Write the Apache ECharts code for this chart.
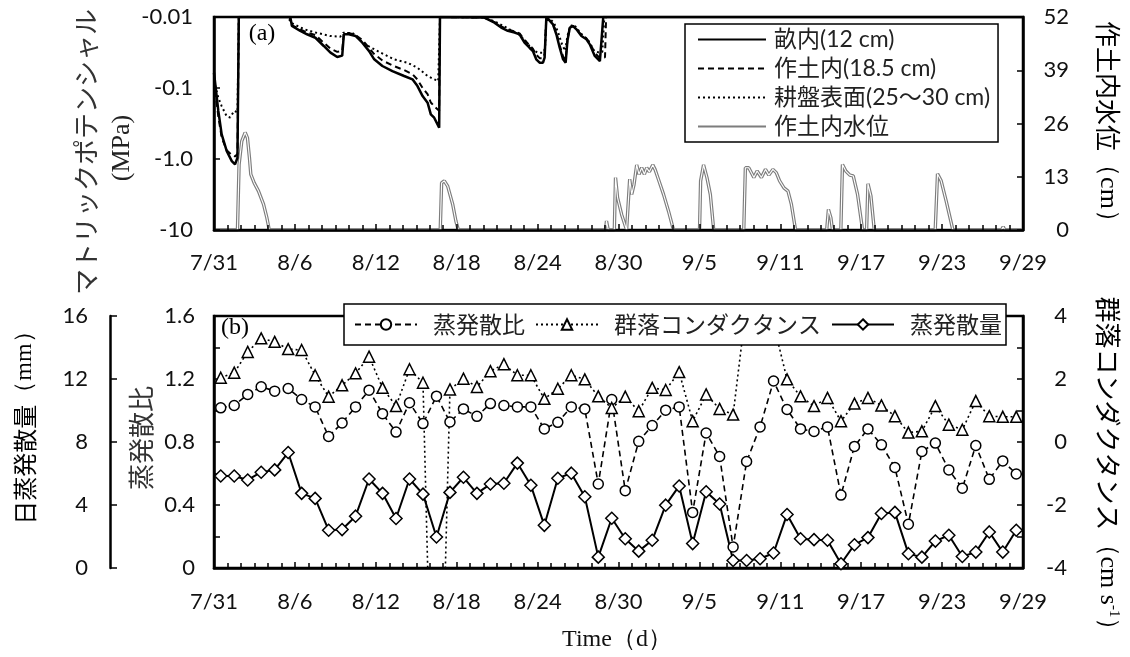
<!DOCTYPE html>
<html><head><meta charset="utf-8">
<script src="https://cdn.jsdelivr.net/npm/echarts@6/dist/echarts.min.js"></script>
<style>html,body{margin:0;padding:0;background:#fff}#c{width:1130px;height:657px}</style>
</head><body><div id="c"></div>
<script>
// ---------- tick labels ----------
const xTickLabels = ['7/31','8/6','8/12','8/18','8/24','8/30','9/5','9/11','9/17','9/23','9/29'];
const potentialTickLabels = ['-0.01','-0.1','-1.0','-10'];

// ---------- panel (a): matric potential [day, MPa] ----------
const ridge12 = [[0,-0.061],[0.32,-0.21],[0.57,-0.45],[0.94,-0.77],[1.32,-1.07],[1.56,-1.19],[1.74,-0.96],[1.84,-0.01],
 [5.66,-0.01],[5.78,-0.0134],[6.40,-0.0157],[6.90,-0.0175],[7.52,-0.0196],[8.14,-0.0256],[8.64,-0.0318],[9.14,-0.0366],[9.51,-0.035],[9.63,-0.0175],[10.0,-0.0175],[10.5,-0.0185],[11.0,-0.023],[11.49,-0.030],[11.86,-0.039],[12.49,-0.049],[13.23,-0.0577],[14.1,-0.0678],[14.72,-0.0755],[15.09,-0.094],[15.47,-0.13],[15.84,-0.161],[16.08,-0.235],[16.33,-0.262],[16.70,-0.362],[16.76,-0.01],
 [20.05,-0.0102],[20.8,-0.012],[21.3,-0.0141],[21.79,-0.0157],[22.29,-0.0166],[22.66,-0.0175],[23.03,-0.023],[23.4,-0.0271],[23.65,-0.0301],[23.9,-0.0394],[24.15,-0.044],[24.4,-0.044],[24.52,-0.0374],[24.65,-0.01],[24.77,-0.0103],[25.14,-0.0127],[25.39,-0.0175],[25.64,-0.0271],[25.89,-0.0394],[26.08,-0.044],[26.21,-0.0218],[26.39,-0.0141],[26.63,-0.0134],[26.88,-0.0149],[27.25,-0.0185],[27.62,-0.0206],[27.87,-0.0243],[28.24,-0.0354],[28.62,-0.0417],[28.74,-0.0394],[28.87,-0.01],[60,-0.01]];
const plow185 = [[0,-0.08],[0.32,-0.25],[0.57,-0.5],[0.94,-0.75],[1.32,-0.88],[1.56,-0.92],[1.74,-0.85],[1.84,-0.01],
 [5.6,-0.01],[5.78,-0.013],[6.4,-0.015],[6.9,-0.0165],[7.52,-0.018],[8.14,-0.023],[8.64,-0.028],[9.14,-0.031],[9.51,-0.030],[9.63,-0.017],[10.0,-0.0168],[10.5,-0.018],[11.0,-0.021],[11.49,-0.027],[11.86,-0.033],[12.49,-0.041],[13.23,-0.048],[14.1,-0.056],[14.72,-0.064],[15.09,-0.076],[15.47,-0.10],[15.84,-0.122],[16.08,-0.16],[16.33,-0.18],[16.70,-0.21],[16.76,-0.01],
 [20.05,-0.0102],[20.8,-0.0118],[21.3,-0.0136],[21.79,-0.015],[22.29,-0.016],[22.66,-0.017],[23.03,-0.021],[23.4,-0.025],[23.65,-0.028],[23.9,-0.034],[24.15,-0.038],[24.4,-0.038],[24.52,-0.033],[24.65,-0.01],[24.77,-0.0103],[25.14,-0.0125],[25.39,-0.0165],[25.64,-0.025],[25.89,-0.036],[26.08,-0.040],[26.21,-0.021],[26.39,-0.014],[26.63,-0.0133],[26.88,-0.0147],[27.25,-0.018],[27.62,-0.020],[27.87,-0.023],[28.24,-0.032],[28.62,-0.038],[29.0,-0.037],[29.08,-0.01],[60,-0.01]];
const hardpan = [[0,-0.079],[0.32,-0.137],[0.57,-0.18],[0.94,-0.25],[1.2,-0.26],[1.5,-0.21],[1.74,-0.22],[1.84,-0.01],
 [5.5,-0.01],[5.7,-0.012],[6.7,-0.0149],[7.5,-0.0165],[8.6,-0.0185],[9.35,-0.019],[9.6,-0.0166],[10.3,-0.017],[11.2,-0.0243],[12.36,-0.0318],[13.35,-0.0394],[14.34,-0.044],[15.09,-0.0518],[15.84,-0.0678],[16.33,-0.0755],[16.63,-0.0797],[16.76,-0.01],
 [20.0,-0.0101],[20.8,-0.0115],[21.8,-0.0145],[22.6,-0.0175],[23.1,-0.0218],[23.6,-0.0285],[24.0,-0.0318],[24.4,-0.0318],[24.55,-0.028],[24.65,-0.01],[24.8,-0.0102],[25.2,-0.012],[25.5,-0.016],[25.8,-0.024],[26.05,-0.03],[26.2,-0.019],[26.4,-0.0135],[26.7,-0.0128],[27.2,-0.017],[27.7,-0.0206],[28.2,-0.0301],[28.6,-0.0318],[28.8,-0.031],[28.95,-0.01],[60,-0.01]];
// water level in plough layer [day, cm]
const waterLevel = [[0,0],[1.74,0],[1.86,16.0],[2.06,21.7],[2.31,23.8],[2.48,22.5],[2.63,17.6],[2.73,13.6],[2.98,11.5],[3.30,9.5],[3.67,6.3],[3.92,3.0],[4.10,0],
 [16.78,0],[16.88,11.5],[17.08,12.0],[17.33,10.7],[17.7,6.3],[17.94,2.2],[18.12,0],
 [29.04,0],[29.11,2.2],[29.24,0],[29.69,0],[29.78,12.8],[29.93,7.9],[30.23,3.8],[30.6,0],[30.73,0],[30.83,12.4],[30.98,8.7],[31.15,11.1],[31.35,15.9],[31.52,13.6],[31.72,15.2],[31.92,13.6],[32.09,15.2],[32.29,14.2],[32.54,15.9],[32.71,14.8],[32.96,12.4],[33.34,8.7],[33.71,4.6],[34.08,0],
 [36.01,0],[36.09,12.0],[36.31,15.9],[36.56,12.8],[36.81,8.7],[37.06,0],
 [39.29,0],[39.41,15.2],[39.66,15.2],[40.04,12.8],[40.28,14.4],[40.6,12.8],[40.9,14.8],[41.15,13.4],[41.45,14.8],[41.7,14.0],[41.95,12.0],[42.27,10.3],[42.57,9.5],[42.82,6.3],[43.13,0],
 [45.44,0],[45.57,5.0],[45.75,3.0],[45.87,0],
 [46.49,0],[46.61,16.0],[46.86,14.4],[47.16,13.4],[47.41,13.2],[47.73,8.7],[48.1,0],[48.4,0],[48.5,11.3],[48.72,8.3],[48.97,0],
 [53.49,0],[53.66,13.7],[53.93,12.0],[54.3,7.1],[54.8,0],
 [58.4,0],[58.53,0.8],[58.65,0],[60,0]];

// ---------- panel (b): daily values (7/31 ... 9/28) ----------
const etRatio = [1.017,1.032,1.102,1.151,1.123,1.140,1.070,1.023,0.835,0.921,
 1.023,1.129,0.980,0.863,1.049,0.917,1.091,0.927,1.010,0.963,
 1.044,1.032,1.023,1.023,0.883,0.925,1.023,1.010,0.533,1.070,
 0.491,0.804,0.904,1.002,1.023,0.353,0.857,0.708,0.133,0.676,
 0.896,1.187,1.006,0.883,0.867,0.896,0.463,0.772,0.883,0.782,
 0.638,0.278,0.740,0.793,0.623,0.506,0.778,0.563,0.680,0.597];
const canopyCond = [2.04,2.20,2.86,3.29,3.18,2.95,2.92,2.12,1.44,1.80,
 2.18,2.71,1.72,1.14,2.31,1.88,-15,1.67,2.01,1.75,
 2.25,2.47,2.12,2.12,1.37,1.69,2.12,1.99,1.45,1.08,
 1.44,0.98,1.72,1.65,2.22,0.66,1.51,1.05,0.87,4.4,
 4.6,3.75,1.99,1.45,1.14,1.40,0.66,1.22,1.40,1.16,
 0.82,0.30,0.34,1.14,0.55,0.39,1.30,0.82,0.80,0.80];
const etDaily = [5.84,5.84,5.59,6.08,6.23,7.33,4.74,4.42,2.40,2.44,
 3.29,5.65,4.74,3.14,5.65,4.69,1.97,4.80,5.76,4.74,
 5.33,5.38,6.66,5.25,2.71,5.70,6.02,4.52,0.69,3.16,
 1.86,1.07,1.76,3.99,5.21,1.55,4.84,4.06,0.48,0.48,
 0.59,0.95,3.40,1.86,1.80,1.76,0.27,1.48,1.93,3.46,
 3.53,0.91,0.69,1.71,2.08,0.73,1.01,2.29,1.01,2.40];

const SANS = 'Lato, "Noto Sans CJK JP", sans-serif';
const JP = '"Noto Sans CJK JP", sans-serif';
const SERIF = '"Liberation Serif", "Times New Roman", serif';
const daily = arr => arr.map((v, i) => [i + 0.5, v]);
const absPot = arr => arr.map(p => [p[0], Math.abs(p[1])]);

const axisLine = {show: true, onZero: false, lineStyle: {color: '#000', width: 2.5}};
const tickStyle = {color: '#000', width: 1.5};
const lbl = {color: '#111', fontSize: 22, fontFamily: SANS};

function xAxisFor(grid, margin) {
  return {type: 'value', gridIndex: grid, min: 0, max: 60, interval: 6, z: 3,
    axisLine: axisLine,
    axisTick: {show: true, inside: true, length: 6, lineStyle: tickStyle},
    minorTick: {show: true, splitNumber: 6, length: 5, lineStyle: tickStyle},
    splitLine: {show: false}, minorSplitLine: {show: false},
    axisLabel: Object.assign({margin: margin, formatter: v => xTickLabels[Math.round(v / 6)] || ''}, lbl)};
}

const option = {
  animation: false,
  backgroundColor: '#fff',
  grid: [
    {left: 214, top: 17, width: 809, height: 213, show: true, borderColor: '#000', borderWidth: 2.5, backgroundColor: 'transparent'},
    {left: 214, top: 316, width: 809, height: 252, show: true, borderColor: '#000', borderWidth: 2.5, backgroundColor: 'transparent'}
  ],
  xAxis: [xAxisFor(0, 22), xAxisFor(1, 23)],
  yAxis: [
    {type: 'log', logBase: 10, gridIndex: 0, min: 0.01, max: 10, inverse: true, position: 'left', z: 3,
     axisLine: axisLine, axisTick: {show: true, inside: true, length: 6, lineStyle: tickStyle},
     splitLine: {show: false},
     axisLabel: Object.assign({margin: 21, formatter: v => potentialTickLabels[Math.round(Math.log10(v)) + 2]}, lbl)},
    {type: 'value', gridIndex: 0, min: 0, max: 52, interval: 13, position: 'right', z: 3,
     axisLine: axisLine, axisTick: {show: true, inside: true, length: 6, lineStyle: tickStyle},
     splitLine: {show: false},
     axisLabel: Object.assign({margin: 46, align: 'right'}, lbl)},
    {type: 'value', gridIndex: 1, min: 0, max: 1.6, interval: 0.4, position: 'left', z: 3,
     axisLine: axisLine, axisTick: {show: true, inside: true, length: 6, lineStyle: tickStyle},
     minorTick: {show: true, splitNumber: 2, length: 6, lineStyle: tickStyle},
     splitLine: {show: false}, minorSplitLine: {show: false},
     axisLabel: Object.assign({margin: 19}, lbl)},
    {type: 'value', gridIndex: 1, min: 0, max: 16, interval: 4, position: 'left', offset: 104, z: 3,
     axisLine: axisLine, axisTick: {show: true, inside: true, length: 7, lineStyle: tickStyle},
     splitLine: {show: false},
     axisLabel: Object.assign({margin: 22}, lbl)},
    {type: 'value', gridIndex: 1, min: -4, max: 4, interval: 2, position: 'right', z: 3,
     axisLine: axisLine, axisTick: {show: true, inside: true, length: 6, lineStyle: tickStyle},
     minorTick: {show: true, splitNumber: 2, length: 6, lineStyle: tickStyle},
     splitLine: {show: false}, minorSplitLine: {show: false},
     axisLabel: Object.assign({margin: 44, align: 'right'}, lbl)}
  ],
  legend: [
    {orient: 'vertical', left: 685, top: 24, itemWidth: 68, itemHeight: 12, itemGap: 6,
     padding: [4, 8, 4, 12], backgroundColor: '#fff', borderColor: '#000', borderWidth: 1.5,
     itemStyle: {opacity: 0},
     textStyle: {fontSize: 23, fontFamily: SANS, color: '#222', padding: [0, 0, 0, 3]},
     data: ['畝内(12 cm)', '作土内(18.5 cm)', '耕盤表面(25～30 cm)', '作土内水位']},
    {orient: 'horizontal', left: 344, top: 304, itemWidth: 62, itemHeight: 13, itemGap: 10,
     padding: [9, 4, 9, 10], backgroundColor: '#fff', borderColor: '#000', borderWidth: 1.5,
     textStyle: {fontSize: 23, fontFamily: JP, color: '#222', padding: [0, 0, 0, 11]},
     data: ['蒸発散比', '群落コンダクタンス', '蒸発散量']}
  ],
  series: [
    {name: '作土内水位', type: 'line', xAxisIndex: 0, yAxisIndex: 1, data: waterLevel, showSymbol: false, symbol: 'none',
     lineStyle: {color: '#7d7d7d', width: 3.4}, itemStyle: {color: '#7d7d7d'}, z: 1},
    {name: 'wl-inner', type: 'line', xAxisIndex: 0, yAxisIndex: 1, data: waterLevel, showSymbol: false, symbol: 'none',
     lineStyle: {color: '#fff', width: 1.1}, itemStyle: {color: '#fff'}, z: 1, silent: true},
    {name: '耕盤表面(25～30 cm)', type: 'line', xAxisIndex: 0, yAxisIndex: 0, data: absPot(hardpan), showSymbol: false, symbol: 'none',
     lineStyle: {color: '#000', width: 2, type: [2, 3]}, itemStyle: {color: '#000'}},
    {name: '作土内(18.5 cm)', type: 'line', xAxisIndex: 0, yAxisIndex: 0, data: absPot(plow185), showSymbol: false, symbol: 'none',
     lineStyle: {color: '#000', width: 2, type: [6, 4]}, itemStyle: {color: '#000'}},
    {name: '畝内(12 cm)', type: 'line', xAxisIndex: 0, yAxisIndex: 0, data: absPot(ridge12), showSymbol: false, symbol: 'none',
     lineStyle: {color: '#000', width: 2.5}, itemStyle: {color: '#000'}},

    {name: '蒸発散量', type: 'line', xAxisIndex: 1, yAxisIndex: 3, data: daily(etDaily), symbol: 'diamond', symbolSize: 12,
     lineStyle: {color: '#000', width: 2}, itemStyle: {color: '#fff', borderColor: '#000', borderWidth: 1.5}},
    {name: '蒸発散比', type: 'line', xAxisIndex: 1, yAxisIndex: 2, data: daily(etRatio), symbol: 'circle', symbolSize: 10,
     lineStyle: {color: '#000', width: 1.6, type: [6, 4]}, itemStyle: {color: '#fff', borderColor: '#000', borderWidth: 1.5}},
    {name: '群落コンダクタンス', type: 'line', xAxisIndex: 1, yAxisIndex: 4, data: daily(canopyCond), symbol: 'triangle', symbolSize: 11,
     lineStyle: {color: '#000', width: 1.6, type: [2, 3]}, itemStyle: {color: '#fff', borderColor: '#000', borderWidth: 1.5}}
  ],
  graphic: [
    {type: 'text', x: 262, y: 34, style: {text: '(a)', font: '24px ' + SERIF, fill: '#000', align: 'center', verticalAlign: 'middle'}},
    {type: 'text', x: 235, y: 328, z: 10, style: {text: '(b)', font: '24px ' + SERIF, fill: '#000', align: 'center', verticalAlign: 'middle'}},
    {type: 'text', x: 86, y: 152, rotation: Math.PI / 2, style: {text: 'マトリックポテンシャル', font: '26px ' + JP, fill: '#333', align: 'center', verticalAlign: 'middle'}},
    {type: 'text', x: 122, y: 148, rotation: Math.PI / 2, style: {text: '(MPa)', font: '26px ' + SERIF, fill: '#222', align: 'center', verticalAlign: 'middle'}},
    {type: 'text', x: 1108, y: 128, rotation: -Math.PI / 2, style: {text: '{a|作土内水位}{b|（cm）}', align: 'center', verticalAlign: 'middle',
      rich: {a: {font: '26px ' + JP, color: '#333'}, b: {font: '26px ' + SERIF, color: '#222'}}}},
    {type: 'text', x: 1108, y: 470, rotation: -Math.PI / 2, style: {text: '{a|群落コンダクタンス}{b|（cm s}{s|-1}{b|）}', align: 'center', verticalAlign: 'middle',
      rich: {a: {font: '26px ' + JP, color: '#333'}, b: {font: '26px ' + SERIF, color: '#222'}, s: {font: '15px ' + SERIF, color: '#222', verticalAlign: 'top'}}}},
    {type: 'text', x: 25, y: 422, rotation: Math.PI / 2, style: {text: '{a|日蒸発散量}{b|（mm）}', align: 'center', verticalAlign: 'middle',
      rich: {a: {font: '24px ' + JP, color: '#333'}, b: {font: '24px ' + SERIF, color: '#222'}}}},
    {type: 'text', x: 141, y: 438, rotation: Math.PI / 2, style: {text: '蒸発散比', font: '26px ' + JP, fill: '#333', align: 'center', verticalAlign: 'middle'}},
    {type: 'text', x: 617, y: 640, style: {text: 'Time（d）', font: '24px ' + SERIF, fill: '#111', align: 'center', verticalAlign: 'middle'}}
  ]
};
const chart = echarts.init(document.getElementById('c'), null, {renderer: 'canvas'});
chart.setOption(option);
</script></body></html>
